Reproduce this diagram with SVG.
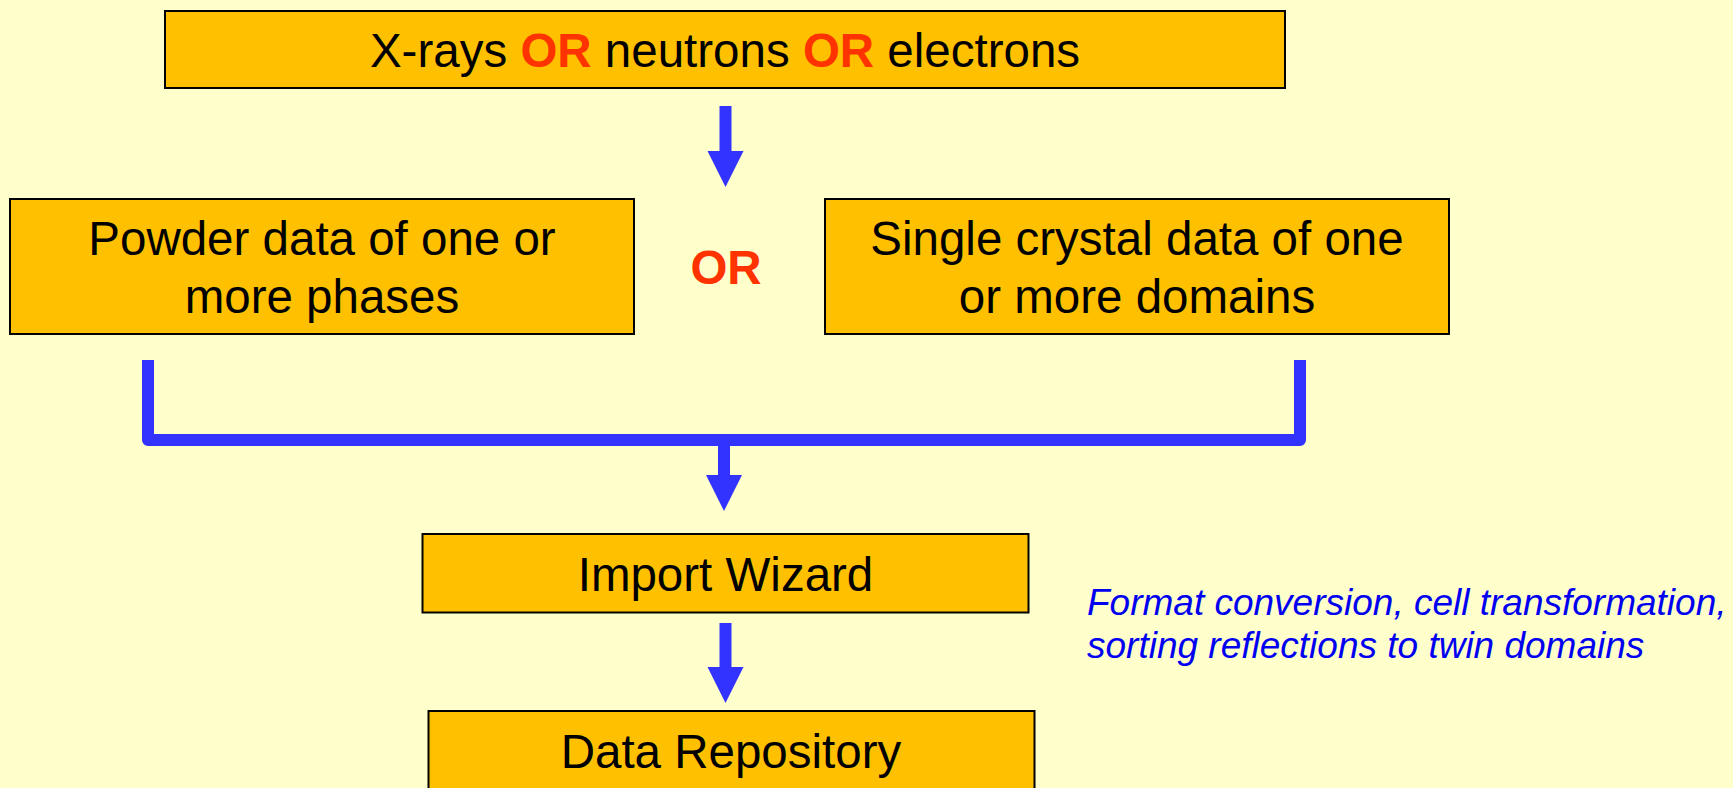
<svg xmlns="http://www.w3.org/2000/svg" width="1733" height="788" viewBox="0 0 1733 788">
  <style>
    .box { fill: #FFC000; stroke: #000000; stroke-width: 2; }
    .label { font-family: "Liberation Sans", Arial, sans-serif; font-size: 47.5px; fill: #000000; text-anchor: middle; }
    .or { font-weight: bold; fill: #FF3300; }
    .note { font-family: "Liberation Sans", Arial, sans-serif; font-size: 37px; font-style: italic; fill: #0000F0; }
    .shaft { stroke: #3333FF; stroke-width: 12; fill: none; }
    .head { fill: #3333FF; }
  </style>
  <defs>
    <path id="arrowhead" d="M-18,0 H18 L0,36 Z"/>
  </defs>

  <rect width="1733" height="788" fill="#FFFFCC"/>

  <g id="source">
    <rect class="box" x="165" y="11" width="1120" height="77"/>
    <text class="label" x="725" y="67">X-rays <tspan class="or">OR</tspan> neutrons <tspan class="or">OR</tspan> electrons</text>
  </g>

  <g id="powder">
    <rect class="box" x="10" y="199" width="624" height="135"/>
    <text class="label" x="322" y="255">Powder data of one or</text>
    <text class="label" x="322" y="313">more phases</text>
  </g>

  <g id="alternative">
    <text class="label or" x="726" y="284">OR</text>
  </g>

  <g id="single-crystal">
    <rect class="box" x="825" y="199" width="624" height="135"/>
    <text class="label" x="1137" y="255">Single crystal data of one</text>
    <text class="label" x="1137" y="313">or more domains</text>
  </g>

  <g id="import-wizard">
    <rect class="box" x="422.5" y="534" width="606" height="78.5"/>
    <text class="label" x="725.5" y="591">Import Wizard</text>
  </g>

  <g id="wizard-note">
    <text class="note" x="1087" y="615">Format conversion, cell transformation,</text>
    <text class="note" x="1087" y="658">sorting reflections to twin domains</text>
  </g>

  <g id="data-repository">
    <rect class="box" x="428.5" y="711" width="606" height="100"/>
    <text class="label" x="731" y="768">Data Repository</text>
  </g>

  <g id="connectors">
    <!-- source to data types -->
    <line class="shaft" x1="725.5" y1="106" x2="725.5" y2="152"/>
    <use href="#arrowhead" class="head" x="725.5" y="151"/>

    <!-- both data types merge into the import step -->
    <path class="shaft" stroke-linejoin="round" d="M148,360 V440 H1300 V360"/>
    <line class="shaft" x1="724" y1="440" x2="724" y2="476"/>
    <use href="#arrowhead" class="head" x="724" y="475"/>

    <!-- import wizard to repository -->
    <line class="shaft" x1="725.5" y1="623" x2="725.5" y2="668"/>
    <use href="#arrowhead" class="head" x="725.5" y="667"/>
  </g>
</svg>
